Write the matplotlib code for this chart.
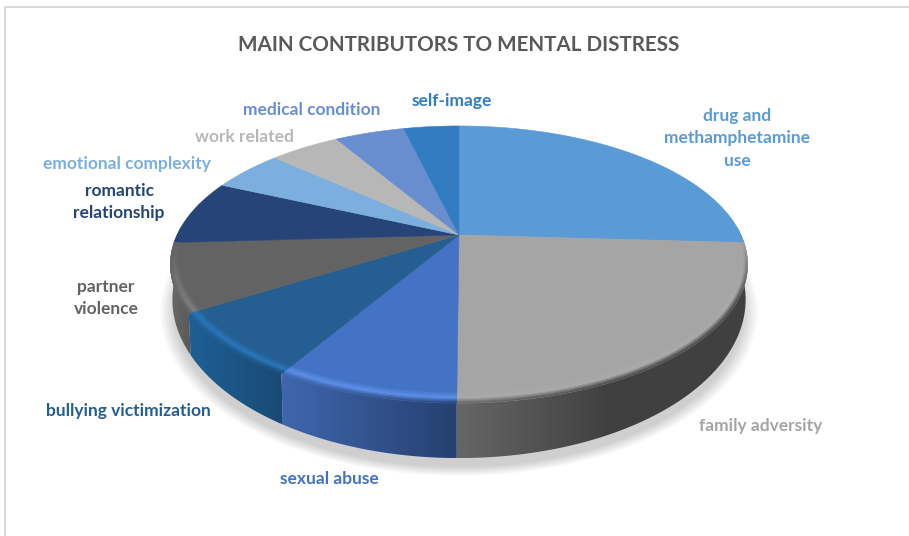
"""
Draws the mental distress contributors as a tilted 3D pie with a soft rim.
"""

import numpy as np
import matplotlib
matplotlib.use('Agg')
import matplotlib.pyplot as plt
from matplotlib.colors import to_rgb
from matplotlib.patches import Ellipse, Polygon

labels = ['drug and\nmethamphetamine\nuse', 'family adversity', 'sexual abuse',
          'bullying victimization', 'partner\nviolence', 'romantic\nrelationship',
          'emotional complexity', 'work related', 'medical condition', 'self-image']
shares = [25.9, 24.2, 8.5, 7.6, 7.9, 7.6, 4.9, 4.8, 4.8, 3.8]

colors = ['#5B9BD5', '#A5A5A5', '#4472C4', '#255E91', '#636363',
          '#264478', '#7CAFDD', '#B7B7B7', '#698ED0', '#327DC2']
# lit edge along the front of the disc, only the lower slices use it
rim_colors = ['#5B9BD5', '#ABABAB', '#5F90EA', '#2A78BC', '#808080',
              '#264478', '#7CAFDD', '#B7B7B7', '#698ED0', '#327DC2']
# side wall shading, left to right
wall_colors = [('#404040', '#404040'), ('#666666', '#404040'), ('#3F66AE', '#26406F'),
               ('#1F5F96', '#194A74'), ('#6A6A6A', '#585858'), ('#264478', '#264478'),
               ('#7CAFDD', '#7CAFDD'), ('#B7B7B7', '#B7B7B7'), ('#698ED0', '#698ED0'),
               ('#327DC2', '#327DC2')]
label_pos = [(737, 138), (761, 426), (329, 479), (128, 411), (106, 298),
             (119, 202), (127, 164), (244, 137), (312, 110), (452, 101)]

# disc projection: apex of the slices sits above the middle of the ellipse
APEX_X, APEX_Y = 459.0, 235.0
SCALE_X, SCALE_Y, PERSP = 282.0, 82.2, -0.213
# the lower edge of the wall is a flatter copy of the top edge
TOP_CY, WALL_CY, WALL_KX, WALL_KY = 265.0, 300.0, 0.993, 1.145


def project(theta, radius=1.0):
    """
    map a clockwise angle from twelve o'clock onto the tilted disc
    :param theta: angle in radians
    :param radius: fraction of the disc radius
    :return: x and y in pixels
    """
    cx = radius * np.sin(theta)
    cy = -radius * np.cos(theta)
    den = 1 + PERSP * cy
    return APEX_X + SCALE_X * cx / den, (SCALE_Y * cy + APEX_Y) / den


def wall_point(x, y):
    return APEX_X + (x - APEX_X) * WALL_KX, WALL_CY + (y - TOP_CY) * WALL_KY


def mix(c1, c2, t):
    return tuple(np.array(c1) * (1 - t) + np.array(c2) * t)


fig = plt.figure(figsize=(9.09, 5.36), dpi=100)
ax = fig.add_axes([0, 0, 1, 1])
ax.set_xlim(0, 909)
ax.set_ylim(536, 0)
ax.axis('off')

# chart frame, only the top and left edges show
ax.plot([5, 5, 909], [536, 7, 7], color='#D9D9D9', lw=1.4, zorder=1)

# soft shadow under the disc
for grow in np.linspace(15, 0, 12):
    ax.add_patch(Ellipse((459, 312), 2 * 284 + grow * 2, 2 * 155 + grow * 1.2,
                         fc='#000000', ec='none', alpha=0.016, zorder=2))

edges = np.radians(np.cumsum([0] + shares) * 3.6)


def wall_color(idx, x, x_lo, x_hi):
    """
    shade of the wall of one slice at a given x position
    """
    t = np.clip((x - x_lo) / max(x_hi - x_lo, 1), 0, 1)
    if idx == 1:
        # family adversity reaches its darkest tone well before the right edge
        t = np.clip(t * 1.9, 0, 1)
    return mix(to_rgb(wall_colors[idx][0]), to_rgb(wall_colors[idx][1]), t)


# side wall, only the part of each slice facing the viewer
wall_ranges = []
for i, (a0, a1) in enumerate(zip(edges[:-1], edges[1:])):
    lo = max(a0, np.radians(86))
    hi = min(a1, np.radians(274))
    if lo >= hi:
        wall_ranges.append(None)
        continue
    th = np.linspace(lo, hi, 80)
    tx, ty = project(th)
    bx, by = wall_point(tx, ty)
    xs = np.concatenate([tx, bx[::-1]])
    ys = np.concatenate([ty, by[::-1]])
    x_lo, x_hi = xs.min(), xs.max()
    wall_ranges.append((x_lo, x_hi))
    strip = np.array([[wall_color(i, x, x_lo, x_hi) for x in np.linspace(x_lo, x_hi, 128)]])
    im = ax.imshow(strip, extent=(x_lo, x_hi, ys.max(), ys.min()), aspect='auto',
                   interpolation='bilinear', zorder=3)
    clip = Polygon(np.column_stack([xs, ys]), closed=True, transform=ax.transData,
                   fc='none', ec='none')
    ax.add_patch(clip)
    im.set_clip_path(clip)
ax.set_xlim(0, 909)
ax.set_ylim(536, 0)

# top face
for i, (a0, a1) in enumerate(zip(edges[:-1], edges[1:])):
    th = np.linspace(a0, a1, 90)
    x, y = project(th)
    pts = np.column_stack([np.r_[APEX_X, x], np.r_[APEX_Y, y]])
    ax.add_patch(Polygon(pts, closed=True, fc=colors[i], ec=colors[i], lw=0.4, zorder=4))

# bevel between the top face and the wall, thinner towards the sides
BAND = 0.055
fracs = np.linspace(0, 1, 11)
for i, (a0, a1) in enumerate(zip(edges[:-1], edges[1:])):
    if wall_ranges[i] is None:
        continue
    x_lo, x_hi = wall_ranges[i]
    base = to_rgb(colors[i])
    lit = to_rgb(rim_colors[i])
    steps = max(int(np.degrees(a1 - a0)), 2)
    th = np.linspace(a0, a1, steps + 1)
    for t0, t1 in zip(th[:-1], th[1:]):
        mid = (t0 + t1) / 2
        strength = np.clip((-np.cos(mid) - 0.05) / 0.4, 0, 1)
        if strength == 0:
            continue
        px, _ = project(mid)
        dark = wall_color(i, px, x_lo, x_hi)
        band = BAND * (0.45 + 0.55 * abs(np.cos(mid)))
        for j, (f0, f1) in enumerate(zip(fracs[:-1], fracs[1:])):
            f = (j + 0.5) / (len(fracs) - 1)
            if f < 0.55:
                col = mix(base, lit, f / 0.55)
            else:
                col = mix(lit, dark, (f - 0.55) / 0.45)
            col = mix(base, col, strength)
            inner = project(np.array([t0, t1]), 1 - band * (1 - f0))
            outer = project(np.array([t1, t0]), 1 - band * (1 - f1))
            pts = np.column_stack([np.r_[inner[0], outer[0]], np.r_[inner[1], outer[1]]])
            ax.add_patch(Polygon(pts, closed=True, fc=col, ec=col, lw=0.3, zorder=5))

# title and slice labels
font = ['Lato', 'DejaVu Sans']
ax.text(459, 45, 'MAIN CONTRIBUTORS TO MENTAL DISTRESS', ha='center', va='center',
        fontsize=14.9, fontweight='bold', color='#595959', family=font, zorder=6)
for label, (lx, ly), col in zip(labels, label_pos, colors):
    ax.text(lx, ly, label, ha='center', va='center', ma='center', fontsize=12.5,
            fontweight='bold', color=col, family=font, linespacing=1.5, zorder=6)

fig.savefig('out.png', dpi=100)
plt.close(fig)
